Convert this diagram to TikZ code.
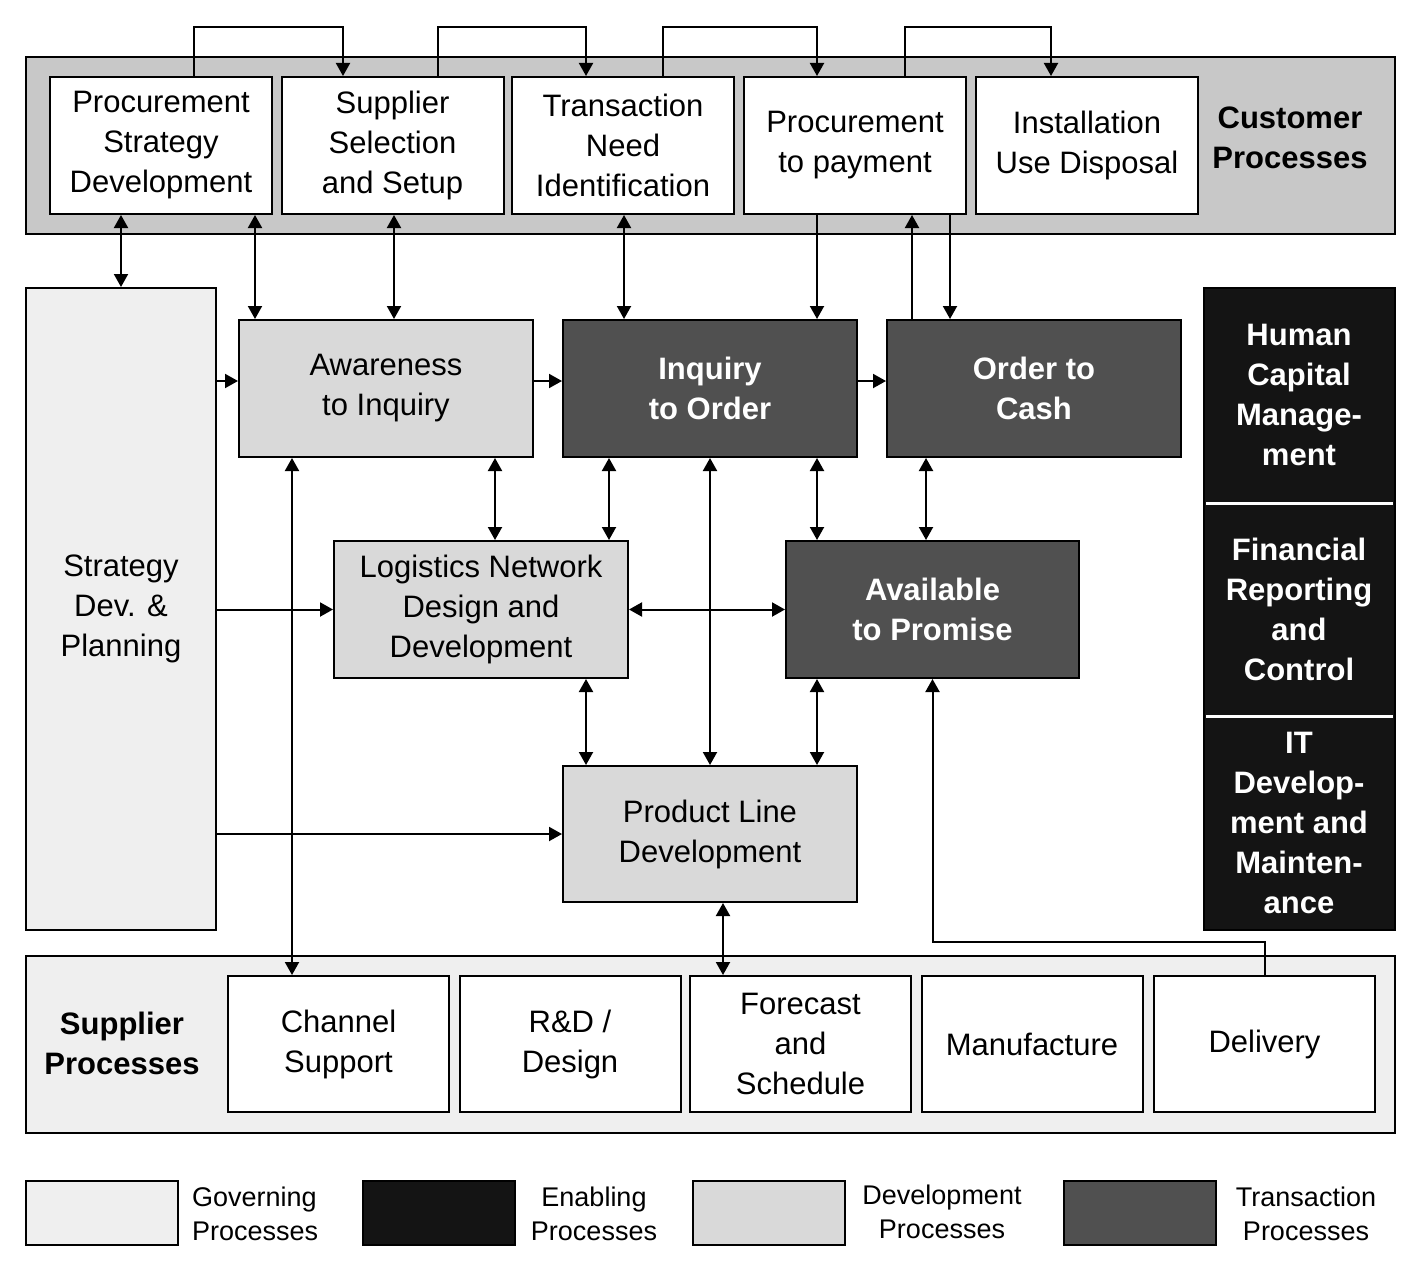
\documentclass[tikz,border=0pt]{standalone}
\usepackage{fontspec}
\setmainfont{Liberation Sans}
\usetikzlibrary{arrows.meta}
\definecolor{gov}{HTML}{EFEFEF}
\definecolor{dev}{HTML}{D9D9D9}
\definecolor{trans}{HTML}{505050}
\definecolor{enab}{HTML}{141414}
\definecolor{band}{HTML}{C8C8C8}
\tikzset{
  every node/.style={font=\fontsize{31}{40}\selectfont, align=center, inner sep=0pt},
  bx/.style={draw=black, line width=2pt, fill=white, minimum width=222pt, minimum height=137pt},
  mid/.style={draw=black, line width=2pt, minimum width=294pt, minimum height=137pt},
  devbox/.style={mid, fill=dev},
  trbox/.style={mid, fill=trans, text=white, font=\fontsize{31}{40}\selectfont\bfseries},
  conn/.style={line width=2pt, arrows={-Triangle[length=13pt,width=14pt]}},
  bic/.style={line width=2pt, arrows={Triangle[length=13pt,width=14pt]-Triangle[length=13pt,width=14pt]}},
  plain/.style={line width=2pt},
  leg/.style={draw=black, line width=2pt, minimum width=152pt, minimum height=64pt},
  legt/.style={font=\fontsize{27}{34}\selectfont}
}
\begin{document}
\begin{tikzpicture}[x=1pt,y=-1pt]
\useasboundingbox (0,0) rectangle (1418,1287);
% bands
\draw[line width=2pt, fill=band] (26,57) rectangle (1395,234);
\draw[line width=2pt, fill=gov] (26,956) rectangle (1395,1133);
% top boxes
\node[bx] (psd) at (161,145.5) {Procurement\\Strategy\\Development};
\node[bx] (sss) at (392.5,145.5) {Supplier\\Selection\\and Setup};
\node[bx] (tni) at (623,145.5) {Transaction\\Need\\Identification};
\node[bx] (p2p) at (855,145.5) {Procurement\\to payment};
\node[bx] (iud) at (1087,145.5) {Installation\\Use Disposal};
\node[font=\fontsize{31}{40}\selectfont\bfseries] (cust) at (1290,138) {Customer\\Processes};
% left and right columns
\node[draw=black, line width=2pt, fill=gov, minimum width=190pt, minimum height=642pt] (strat) at (121,609) {Strategy\\Dev. \&\\Planning};
\node[draw=black, line width=2pt, fill=enab, minimum width=191pt, minimum height=642pt] (enab) at (1299.5,609) {};
\draw[white, line width=3pt] (1206,503) -- (1393,503);
\draw[white, line width=3pt] (1206,716) -- (1393,716);
\node[text=white, font=\fontsize{31}{40}\selectfont\bfseries] (hcm) at (1299,395) {Human\\Capital\\Manage-\\ment};
\node[text=white, font=\fontsize{31}{40}\selectfont\bfseries] (frc) at (1299,609) {Financial\\Reporting\\and\\Control};
\node[text=white, font=\fontsize{31}{40}\selectfont\bfseries] (itd) at (1299,823) {IT\\Develop-\\ment and\\Mainten-\\ance};
% middle
\node[devbox] (awa) at (386,388.5) {Awareness\\to Inquiry};
\node[trbox] (io) at (710,388.5) {Inquiry\\to Order};
\node[trbox] (oc) at (1034,388.5) {Order to\\Cash};
\node[devbox] (log) at (481,609.5) {Logistics Network\\Design and\\Development};
\node[trbox, minimum width=293pt] (atp) at (932.5,609.5) {Available\\to Promise};
\node[devbox, minimum height=136pt] (pl) at (710,834) {Product Line\\Development};
% supplier boxes
\node[font=\fontsize{31}{40}\selectfont\bfseries] (sup) at (122,1043) {Supplier\\Processes};
\node[bx, minimum width=221pt, minimum height=136pt] (cs) at (338.5,1044) {Channel\\Support};
\node[bx, minimum width=221pt, minimum height=136pt] (rd) at (570,1044) {R\&D /\\Design};
\node[bx, minimum width=221pt, minimum height=136pt] (fs) at (800.5,1044) {Forecast\\and\\Schedule};
\node[bx, minimum width=221pt, minimum height=136pt] (man) at (1032,1044) {Manufacture};
\node[bx, minimum width=221pt, minimum height=136pt] (del) at (1264.5,1044) {Delivery};
% coordinates
\foreach \v in {121,194,255,292,343,394,438,495,586,609,624,663,710,723,817,905,912,926,950,1051}
  \coordinate (c\v) at (\v,0);
\coordinate (r381) at (0,381);
% top loops
\draw[conn] (psd.north -| c194) -- ++(0,-49) -| (sss.north -| c343);
\draw[conn] (sss.north -| c438) -- ++(0,-49) -| (tni.north -| c586);
\draw[conn] (tni.north -| c663) -- ++(0,-49) -| (p2p.north -| c817);
\draw[conn] (p2p.north -| c905) -- ++(0,-49) -| (iud.north -| c1051);
% customer to middle
\draw[bic] (psd.south -| c121) -- (strat.north -| c121);
\draw[bic] (psd.south -| c255) -- (awa.north -| c255);
\draw[bic] (sss.south -| c394) -- (awa.north -| c394);
\draw[bic] (tni.south -| c624) -- (io.north -| c624);
\draw[conn] (p2p.south -| c817) -- (io.north -| c817);
\draw[conn] (oc.north -| c912) -- (p2p.south -| c912);
\draw[conn] (p2p.south -| c950) -- (oc.north -| c950);
% horizontal flow
\draw[conn] (strat.east |- r381) -- (awa.west |- r381);
\draw[conn] (awa.east |- r381) -- (io.west |- r381);
\draw[conn] (io.east |- r381) -- (oc.west |- r381);
\draw[conn] (strat.east |- log.west) -- (log.west);
\draw[conn] (strat.east |- pl.west) -- (pl.west);
% middle verticals
\draw[bic] (awa.south -| c292) -- (cs.north -| c292);
\draw[bic] (awa.south -| c495) -- (log.north -| c495);
\draw[bic] (io.south -| c609) -- (log.north -| c609);
\draw[bic] (io.south -| c710) -- (pl.north -| c710);
\draw[bic] (io.south -| c817) -- (atp.north -| c817);
\draw[bic] (oc.south -| c926) -- (atp.north -| c926);
\draw[bic] (log.east) -- (atp.west);
\draw[bic] (log.south -| c586) -- (pl.north -| c586);
\draw[bic] (atp.south -| c817) -- (pl.north -| c817);
\draw[bic] (pl.south -| c723) -- (fs.north -| c723);
\draw[conn] (del.north) -- ++(0,-33) -| (atp.south);
% legend
\node[leg, fill=gov] (lg1) at (102,1213) {};
\node[legt, align=left, anchor=west] (lt1) at (192,1214) {Governing\\Processes};
\node[leg, fill=enab] (lg2) at (439,1213) {};
\node[legt] (lt2) at (594,1214) {Enabling\\Processes};
\node[leg, fill=dev] (lg3) at (769,1213) {};
\node[legt] (lt3) at (942,1212) {Development\\Processes};
\node[leg, fill=trans] (lg4) at (1140,1213) {};
\node[legt] (lt4) at (1306,1214) {Transaction\\Processes};
\end{tikzpicture}
\end{document}
